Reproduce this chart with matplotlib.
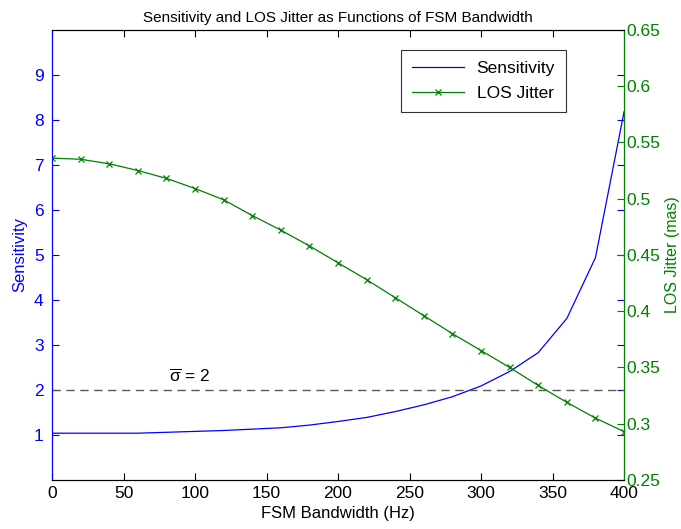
import matplotlib
matplotlib.use("Agg")
import matplotlib.pyplot as plt

plt.rcParams["font.family"] = ["Liberation Sans", "DejaVu Sans"]
plt.rcParams["mathtext.fontset"] = "custom"
plt.rcParams["mathtext.rm"] = "Liberation Sans"
plt.rcParams["mathtext.it"] = "Liberation Sans"

BLUE = "#0000FF"
GREEN = "#008000"

bandwidth = [0, 20, 40, 60, 80, 100, 120, 140, 160, 180, 200,
             220, 240, 260, 280, 300, 320, 340, 360, 380, 400]
sensitivity = [1.04, 1.04, 1.04, 1.04, 1.06, 1.08, 1.10, 1.13, 1.16, 1.22, 1.30,
               1.39, 1.52, 1.67, 1.85, 2.09, 2.41, 2.83, 3.59, 4.94, 8.18]
los_jitter = [0.536, 0.535, 0.531, 0.525, 0.518, 0.509, 0.499, 0.485, 0.472, 0.458, 0.443,
              0.428, 0.412, 0.396, 0.380, 0.365, 0.350, 0.334, 0.319, 0.305, 0.293]
sigma_level = 2

TICK_SIZE = 12.5
LABEL_SIZE = 12

fig = plt.figure(figsize=(6.81, 5.29), dpi=100)
ax = fig.add_axes([0.0764, 0.0926, 0.84, 0.851])
ax2 = ax.twinx()

line1, = ax.plot(bandwidth, sensitivity, color=BLUE, lw=0.9, label="Sensitivity")
ax.axhline(sigma_level, color="#5a5a5a", lw=1.0, ls=(0, (6, 4)))
ax.text(82, sigma_level + 0.18, r"$\overline{\sigma}$ = 2", fontsize=12.5)

line2, = ax2.plot(bandwidth, los_jitter, color=GREEN, lw=0.9, marker="x",
                  markersize=4.5, markeredgewidth=0.9, label="LOS Jitter")

ax.set_xlim(0, 400)
ax.set_ylim(0, 10)
ax.set_yticks(range(1, 10))
ax.set_xticks(range(0, 401, 50))
ax2.set_ylim(0.25, 0.65)
ax2.set_yticks([0.25, 0.3, 0.35, 0.4, 0.45, 0.5, 0.55, 0.6, 0.65])
ax2.set_yticklabels(["0.25", "0.3", "0.35", "0.4", "0.45", "0.5", "0.55", "0.6", "0.65"])

ax.tick_params(axis="x", direction="in", top=True, length=5, labelsize=TICK_SIZE, pad=4)
ax.tick_params(axis="y", direction="in", right=True, length=5, colors=BLUE,
               labelsize=TICK_SIZE, pad=6)
ax2.tick_params(axis="y", direction="in", length=5, colors=GREEN,
                labelsize=TICK_SIZE, pad=2)

ax.spines["left"].set_color(BLUE)
ax2.spines["left"].set_color(BLUE)
ax2.spines["right"].set_color(GREEN)

ax.set_xlabel("FSM Bandwidth (Hz)", fontsize=LABEL_SIZE, labelpad=4)
ax.set_ylabel("Sensitivity", color=BLUE, fontsize=LABEL_SIZE, labelpad=5)
ax2.set_ylabel("LOS Jitter (mas)", color=GREEN, fontsize=11.5, labelpad=3)
ax.set_title("Sensitivity and LOS Jitter as Functions of FSM Bandwidth", fontsize=11, pad=6)

leg = ax2.legend([line1, line2], ["Sensitivity", "LOS Jitter"], loc="upper right",
                 bbox_to_anchor=(0.899, 0.956), borderaxespad=0, fancybox=False,
                 edgecolor="#333333", fontsize=12.5, handlelength=3.0, borderpad=0.65,
                 labelspacing=0.55, handletextpad=0.7, framealpha=1)
leg.get_frame().set_linewidth(0.8)

fig.savefig("out.png", dpi=100)
